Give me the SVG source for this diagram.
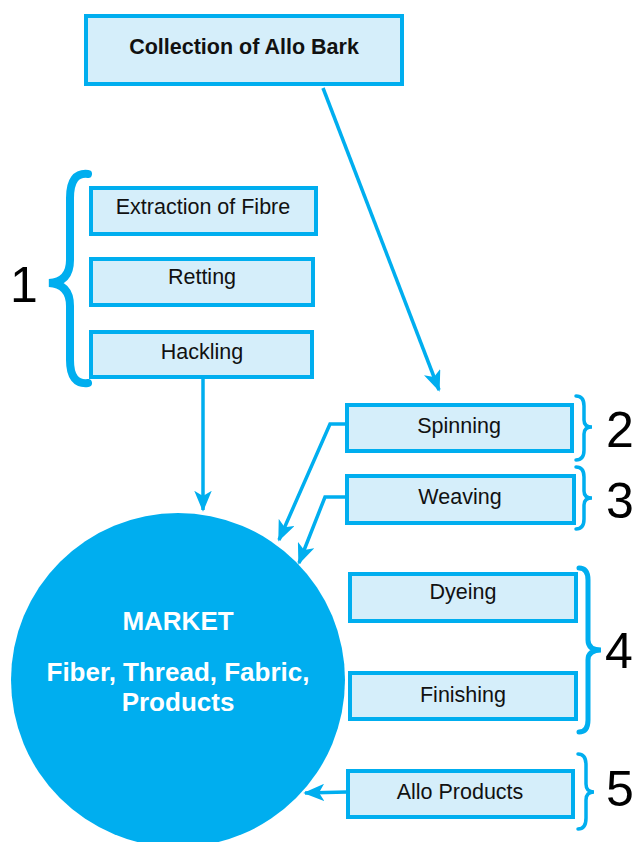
<svg xmlns="http://www.w3.org/2000/svg" width="636" height="842" viewBox="0 0 636 842">
<defs>
<style>
.box{fill:#D5EEFA;stroke:#00AEEF;stroke-width:4}
.lbl{font-family:"Liberation Sans",Arial,sans-serif;font-size:21.5px;fill:#111;text-anchor:middle}
.num{font-family:"Liberation Sans",Arial,sans-serif;font-size:50px;fill:#000}
.brace{fill:none;stroke:#00AEEF;stroke-width:3.5;stroke-linecap:round}
.conn{fill:none;stroke:#00AEEF;stroke-width:3.5}
.mk{font-family:"Liberation Sans",Arial,sans-serif;font-weight:bold;fill:#fff;text-anchor:middle;font-size:26px}
</style>
<marker id="arr" viewBox="0 0 12 10" refX="11" refY="5" markerWidth="6" markerHeight="5" orient="auto" markerUnits="strokeWidth">
<path d="M0,0 L12,5 L0,10 L3,5 z" fill="#00AEEF"/>
</marker>
</defs>
<rect width="636" height="842" fill="#fff"/>
<g id="market">
<circle cx="178" cy="680" r="167" fill="#00AEEF"/>
<text class="mk" x="178" y="630">MARKET</text>
<text class="mk" x="178" y="681">Fiber, Thread, Fabric,</text>
<text class="mk" x="178" y="711">Products</text>
</g>
<g id="connectors">
<path class="conn" d="M323,88 L439,390" marker-end="url(#arr)"/>
<path class="conn" d="M203,378 L203,510" marker-end="url(#arr)"/>
<path class="conn" d="M346,424 L330,424 L279,540" marker-end="url(#arr)"/>
<path class="conn" d="M346,497 L325,497 L299,563" marker-end="url(#arr)"/>
<path class="conn" d="M347,792 L305,793" marker-end="url(#arr)"/>
</g>
<g id="collection">
<rect class="box" x="86" y="16" width="316" height="68"/>
<text class="lbl" x="244" y="54" font-weight="bold">Collection of Allo Bark</text>
</g>
<g id="extraction">
<rect class="box" x="91" y="188" width="225" height="46"/>
<text class="lbl" x="203" y="214">Extraction of Fibre</text>
</g>
<g id="retting">
<rect class="box" x="91" y="259" width="222" height="46"/>
<text class="lbl" x="202" y="284">Retting</text>
</g>
<g id="hackling">
<rect class="box" x="91" y="332" width="221" height="45"/>
<text class="lbl" x="202" y="359">Hackling</text>
</g>
<g id="group1">
<path class="brace" style="stroke-width:8" d="M88,174 Q70,172 70,198 L70,260 Q70,282 49,283 Q70,284 70,306 L70,360 Q70,385 88,383"/>
<text class="num" x="10" y="302">1</text>
</g>
<g id="spinning">
<rect class="box" x="347" y="405" width="225" height="46"/>
<text class="lbl" x="459" y="433">Spinning</text>
</g>
<g id="group2">
<path class="brace" d="M576,396 Q584,396 584,406 L584,420 Q584,427 592,427 Q584,427 584,434 L584,450 Q584,460 576,460"/>
<text class="num" x="606" y="447">2</text>
</g>
<g id="weaving">
<rect class="box" x="347" y="476" width="227" height="47"/>
<text class="lbl" x="460" y="504">Weaving</text>
</g>
<g id="group3">
<path class="brace" d="M576,467 Q584,467 584,477 L584,491 Q584,498 592,498 Q584,498 584,505 L584,519 Q584,529 576,529"/>
<text class="num" x="606" y="518">3</text>
</g>
<g id="dyeing">
<rect class="box" x="350" y="574" width="226" height="47"/>
<text class="lbl" x="463" y="599">Dyeing</text>
</g>
<g id="finishing">
<rect class="box" x="350" y="673" width="226" height="46"/>
<text class="lbl" x="463" y="702">Finishing</text>
</g>
<g id="group4">
<path class="brace" style="stroke-width:5" d="M579,568 Q588,568 588,580 L588,640 Q588,650 601,650 Q588,650 588,660 L588,720 Q588,732 579,732"/>
<text class="num" x="605" y="668">4</text>
</g>
<g id="alloproducts">
<rect class="box" x="348" y="771" width="225" height="46"/>
<text class="lbl" x="460" y="799">Allo Products</text>
</g>
<g id="group5">
<path class="brace" d="M578,754 Q586,754 586,765 L586,784 Q586,792 594,792 Q586,792 586,800 L586,818 Q586,829 578,829"/>
<text class="num" x="606" y="806">5</text>
</g>
</svg>
